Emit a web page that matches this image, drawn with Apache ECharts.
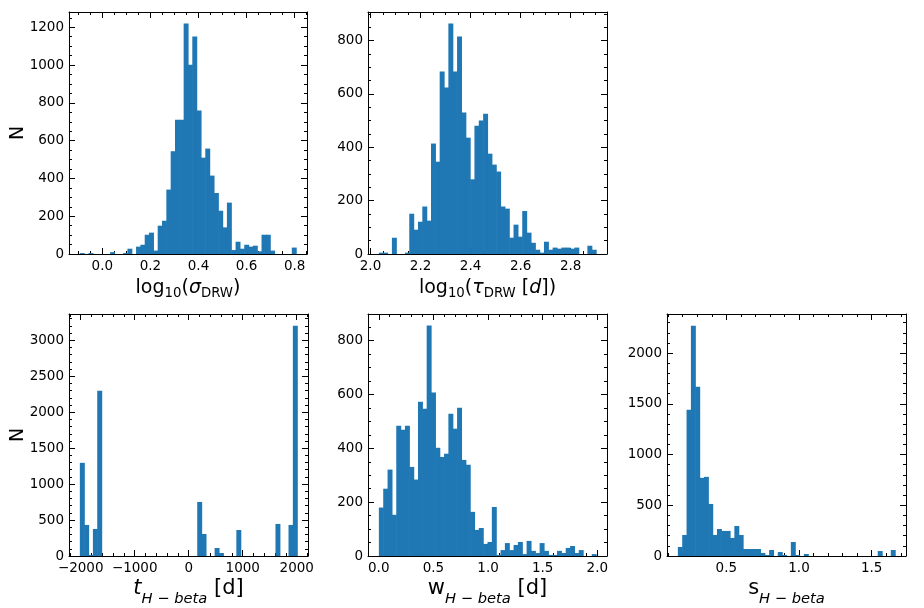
<!DOCTYPE html>
<html><head><meta charset="utf-8">
<script src="https://cdn.jsdelivr.net/npm/echarts@6/dist/echarts.min.js"></script>
<style>html,body{margin:0;padding:0;background:#fff}#c{width:924px;height:608px}</style>
</head><body><div id="c"></div>
<script>
// ---------- data (histograms, 50 bins each) ----------
const sigmaBinStart = -0.0937, sigmaBinWidth = 0.018;
const sigmaCounts = [5,0,5,0,0,0,0,10,0,0, 5,28,0,39,49,102,113,18,150,176,
  341,544,711,711,1220,1002,1151,759,510,558, 415,323,229,141,272,21,65,28,49,39,
  44,14,102,102,18,0,0,0,0,34];

const tauBinStart = 2.0334, tauBinWidth = 0.01736;
const tauCounts = [5,5,0,61,0,0,5,151,91,121, 178,125,414,346,684,624,864,684,815,530,
  436,280,481,500,526,376,335,309,178,170, 61,110,65,161,80,42,16,5,46,16,
  24,20,24,24,20,24,0,0,31,16];

const tBinStart = -2016, tBinWidth = 80.5;
const tCounts = [1296,432,15,376,2299,0,0,0,0,0, 0,0,0,0,0,0,0,0,0,0,
  0,0,0,0,0,0,0,752,306,0, 0,111,42,0,0,0,362,0,0,0,
  0,0,0,0,0,446,0,0,432,3204];

const wBinStart = 0.001, wBinWidth = 0.03976;
const wCounts = [180,250,321,153,484,469,484,331,284,573, 547,856,607,402,368,380,528,473,551,357,
  339,164,97,104,45,52,182,4,22,48, 22,41,52,7,56,19,11,48,19,4,
  4,19,11,30,37,11,22,0,0,7];

const sBinStart = 0.1667, sBinWidth = 0.02989;
const sCounts = [89,207,1441,2269,1668,770,780,513,207,266, 247,247,178,296,207,69,69,69,69,30,
  10,59,0,39,10,0,138,10,0,20, 0,0,0,0,0,0,0,0,0,0,
  0,0,0,0,0,0,49,0,0,59];

// axis ranges
const sigmaXRange = [-0.1387, 0.8515], sigmaYMax = 1281;
const tauXRange = [1.990, 2.945], tauYMax = 907;
const tXRange = [-2217, 2209], tYMax = 3366;
const wXRange = [-0.0985, 2.0885], wYMax = 899;
const sXRange = [0.092, 1.736], sYMax = 2385;

// axis titles
const sigmaLabel = '{m|log}{s|10}{m|(}{mi|σ}{s|DRW}{m|)}';
const tauLabel = '{m|log}{s|10}{m|(}{mi|τ}{s|DRW}{m| [}{mi|d}{m|])}';
const tLabel = '{bi|t}{bs|H − beta}{b| [d]}';
const wLabel = '{b|w}{bs|H − beta}{b| [d]}';
const sLabel = '{b|s}{bs|H − beta}';

// ---------- chart ----------
const FONT = 'DejaVu Sans';
const BLUE = '#1f77b4';
const rich = {
  m:  {fontFamily: FONT, fontSize: 19, lineHeight: 34, color: '#000', verticalAlign: 'middle'},
  mi: {fontFamily: FONT, fontSize: 19, lineHeight: 34, color: '#000', fontStyle: 'italic', verticalAlign: 'middle'},
  s:  {fontFamily: FONT, fontSize: 13.3, lineHeight: 13, color: '#000', padding: [12, 0, 0, 0], verticalAlign: 'middle'},
  b:  {fontFamily: FONT, fontSize: 21, lineHeight: 36, color: '#000', verticalAlign: 'middle'},
  bi: {fontFamily: FONT, fontSize: 21, lineHeight: 36, color: '#000', fontStyle: 'italic', verticalAlign: 'middle'},
  bs: {fontFamily: FONT, fontSize: 14.7, lineHeight: 14, color: '#000', fontStyle: 'italic', padding: [20, 0, 0, 0], verticalAlign: 'middle'}
};

function toBins(start, width, counts) {
  return counts.map((c, i) => [start + i * width, start + (i + 1) * width, c]);
}

const panels = [
  {grid: {left: 69, top: 12, width: 238, height: 242}, xr: sigmaXRange, ymax: sigmaYMax, yint: 200,
   xsplit: 5, xminor: 4, yminor: 4, fmt: v => v.toFixed(1), name: sigmaLabel, gap: 17, ylabel: true,
   data: toBins(sigmaBinStart, sigmaBinWidth, sigmaCounts)},
  {grid: {left: 368, top: 12, width: 239, height: 242}, xr: tauXRange, ymax: tauYMax, yint: 200,
   xsplit: 5, xminor: 4, yminor: 4, fmt: v => v.toFixed(1), name: tauLabel, gap: 17, ylabel: false,
   data: toBins(tauBinStart, tauBinWidth, tauCounts)},
  {grid: {left: 69, top: 314, width: 239, height: 242}, xr: tXRange, ymax: tYMax, yint: 500,
   xsplit: 5, xminor: 5, yminor: 5, fmt: v => (v < 0 ? '\u2212' + Math.abs(v) : String(v)), name: tLabel, gap: 15, ylabel: true,
   data: toBins(tBinStart, tBinWidth, tCounts)},
  {grid: {left: 368, top: 314, width: 239, height: 242}, xr: wXRange, ymax: wYMax, yint: 200,
   xsplit: 5, xminor: 5, yminor: 4, fmt: v => v.toFixed(1), name: wLabel, gap: 15, ylabel: false,
   data: toBins(wBinStart, wBinWidth, wCounts)},
  {grid: {left: 667, top: 314, width: 239, height: 242}, xr: sXRange, ymax: sYMax, yint: 500,
   xsplit: 4, xminor: 5, yminor: 5, fmt: v => v.toFixed(1), name: sLabel, gap: 15, ylabel: false,
   data: toBins(sBinStart, sBinWidth, sCounts)}
];

const grid = [], xAxis = [], yAxis = [], series = [];
const lineStyle = {color: '#000', width: 1};
const labelStyle = {color: '#000', fontFamily: FONT, fontSize: 13.5};

panels.forEach((p, i) => {
  grid.push(Object.assign({}, p.grid));
  ['bottom', 'top'].forEach((pos, k) => {
    xAxis.push({
      type: 'value', gridIndex: i, position: pos, min: p.xr[0], max: p.xr[1], splitNumber: p.xsplit,
      axisLine: {show: true, onZero: false, lineStyle},
      axisTick: {show: true, inside: true, length: 6, lineStyle},
      minorTick: {show: true, splitNumber: p.xminor, length: 3, lineStyle},
      splitLine: {show: false}, minorSplitLine: {show: false},
      axisLabel: Object.assign({show: k === 0, margin: 5, formatter: p.fmt, showMinLabel: false, showMaxLabel: false}, labelStyle),
      name: k === 0 ? p.name : '', nameLocation: 'middle', nameGap: p.gap, nameMoveOverlap: false,
      nameTextStyle: {rich, fontFamily: FONT, fontSize: 19, color: '#000'}
    });
  });
  ['left', 'right'].forEach((pos, k) => {
    yAxis.push({
      type: 'value', gridIndex: i, position: pos, min: 0, max: p.ymax, interval: p.yint,
      axisLine: {show: true, onZero: false, lineStyle},
      axisTick: {show: true, inside: true, length: 6, lineStyle},
      minorTick: {show: true, splitNumber: p.yminor, length: 3, lineStyle},
      splitLine: {show: false}, minorSplitLine: {show: false},
      axisLabel: Object.assign({show: k === 0, margin: 5, formatter: v => String(v), showMinLabel: true, showMaxLabel: false}, labelStyle),
      name: (k === 0 && p.ylabel) ? 'N' : '', nameLocation: 'middle', nameGap: 41, nameMoveOverlap: false,
      nameTextStyle: {fontFamily: FONT, fontSize: 19, color: '#000'}
    });
  });
  series.push({
    type: 'custom', xAxisIndex: i * 2, yAxisIndex: i * 2, data: p.data,
    encode: {x: [0, 1], y: 2}, silent: true, animation: false,
    renderItem: (params, api) => {
      const c = api.value(2);
      if (!c) return null;
      const a = api.coord([api.value(0), c]);
      const b = api.coord([api.value(1), 0]);
      return {type: 'rect', shape: {x: a[0], y: a[1], width: b[0] - a[0] + 0.6, height: b[1] - a[1]},
              style: {fill: BLUE}};
    }
  });
});

const chart = echarts.init(document.getElementById('c'), null, {renderer: 'canvas'});
chart.setOption({animation: false, backgroundColor: '#fff', grid, xAxis, yAxis, series});
</script></body></html>
